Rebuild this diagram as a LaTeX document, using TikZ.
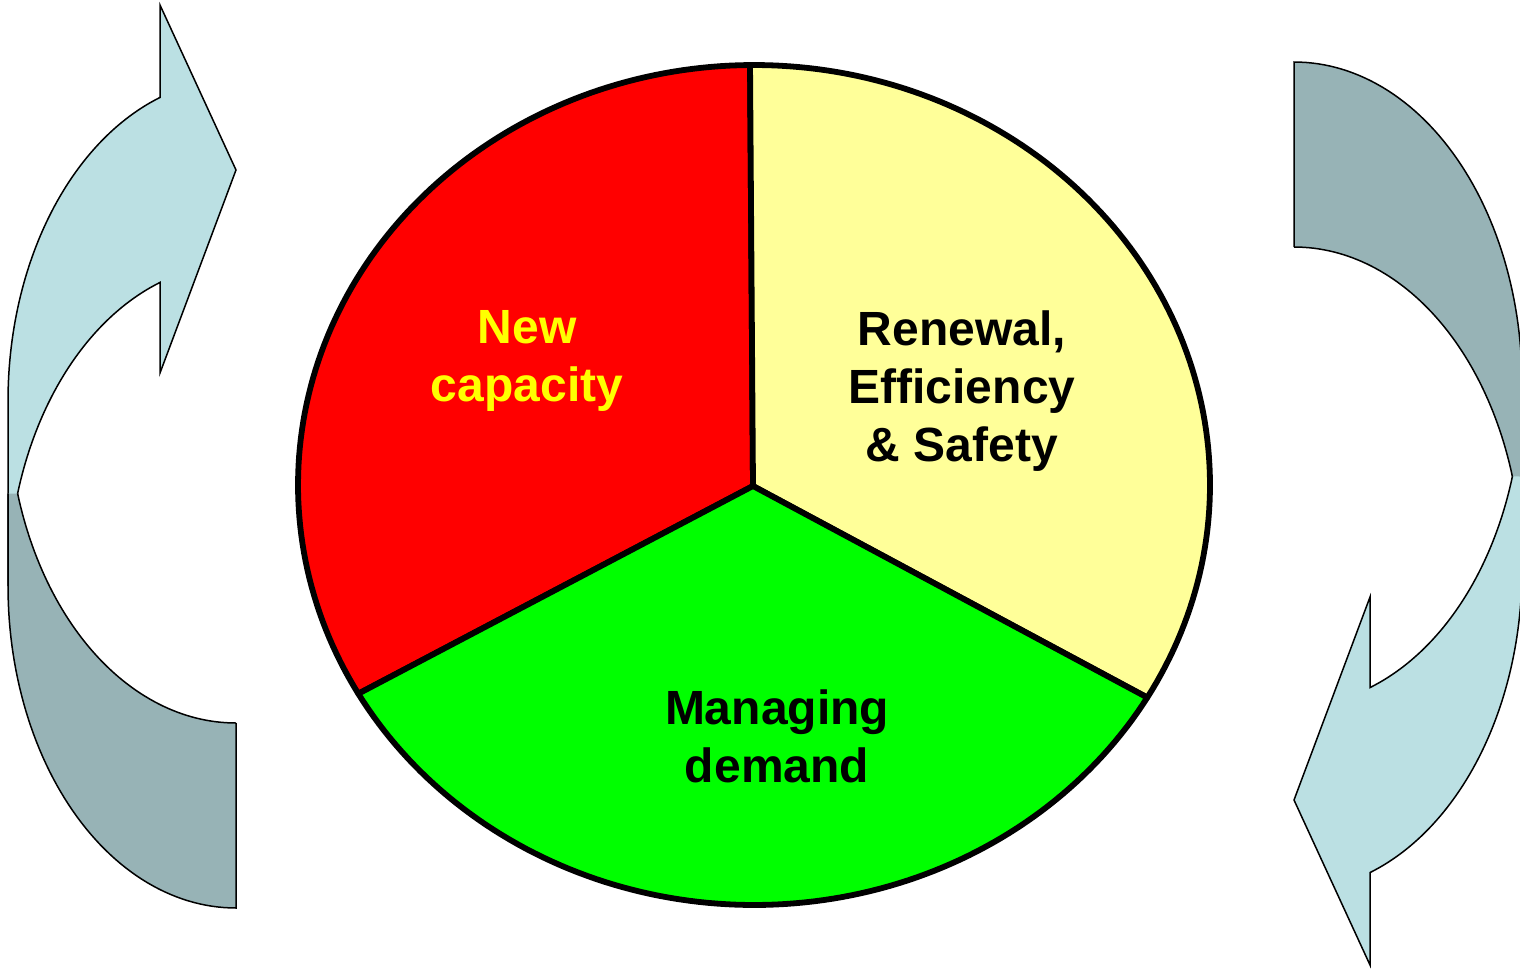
\documentclass[tikz,border=0pt]{standalone}
\usepackage{fontspec}
\setmainfont{Liberation Sans}
\definecolor{arrlightc}{HTML}{BBE0E3}
\definecolor{arrdarkc}{HTML}{97B3B6}
\definecolor{piered}{HTML}{FF0000}
\definecolor{pieyellow}{HTML}{FFFF99}
\definecolor{piegreen}{HTML}{00FF00}
\definecolor{textyellow}{HTML}{FFFF00}
\tikzset{
  arrline/.style={draw=black, line width=0.75pt, line join=miter},
  pieline/.style={draw=black, line width=2.9pt, line join=round},
  lbl/.style={font=\bfseries\fontsize{24}{29}\selectfont, align=center, inner sep=0pt, anchor=north},
  curvarr/.pic={
    % front (light) part
    \filldraw[fill=arrlightc, arrline] (8,401)
      -- plot[domain=180:250.53, samples=60] ({236+228*cos(\x)},{401+322*sin(\x)})
      -- (160,5) -- (236,170) -- (160,373)
      -- plot[domain=250.53:180, samples=60] ({236+228*cos(\x)},{586+322*sin(\x)})
      -- cycle;
    % back (dark) part
    \fill[arrdarkc] (236,908) -- (236,723)
      -- plot[domain=90:163.3, samples=60] ({236+228*cos(\x)},{401+322*sin(\x)})
      -- (8,493.5) -- (8,586)
      -- plot[domain=180:90, samples=60] ({236+228*cos(\x)},{586+322*sin(\x)})
      -- cycle;
    \draw[arrline] plot[domain=90:163.3, samples=60] ({236+228*cos(\x)},{401+322*sin(\x)});
    \draw[arrline] (8,493.5)
      -- plot[domain=180:90, samples=60] ({236+228*cos(\x)},{586+322*sin(\x)})
      -- (236,723);
  }
}
\begin{document}
\begin{tikzpicture}[x=0.5pt,y=-0.5pt]
\useasboundingbox (0,0) rectangle (1520,969);
\fill[white] (0,0) rectangle (1520,969);

% curved arrows
\pic at (0,0) {curvarr};
\pic[rotate=180] at (1530,970) {curvarr};

% pie
\coordinate (P) at (753,486);
\filldraw[fill=piered, pieline] (P)
  -- plot[domain=269.5:150.2, samples=100] ({754+456*cos(\x)},{485+420*sin(\x)}) -- cycle;
\filldraw[fill=pieyellow, pieline] (P)
  -- plot[domain=-90.5:30.4, samples=100] ({754+456*cos(\x)},{485+420*sin(\x)}) -- cycle;
\filldraw[fill=piegreen, pieline] (P)
  -- plot[domain=30.4:150.2, samples=100] ({754+456*cos(\x)},{485+420*sin(\x)}) -- cycle;

% labels
\node[lbl, text=textyellow] (newcap) at (527,310) {New\\capacity};
\node[lbl, text=black] (renew) at (962,310) {Renewal,\\Efficiency\\\& Safety};
\node[lbl, text=black] (manage) at (777,689) {Managing\\demand};
\end{tikzpicture}
\end{document}
